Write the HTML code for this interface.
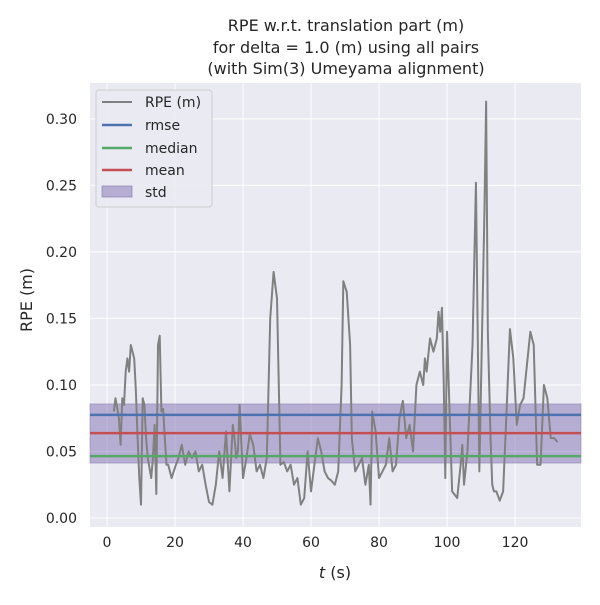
<!DOCTYPE html>
<html><head><meta charset="utf-8"><style>
body{margin:0;background:#fff;font-family:"Liberation Sans","DejaVu Sans",sans-serif;}
svg text{font-family:"DejaVu Sans","Liberation Sans",sans-serif;fill:#262626;}
</style></head><body>
<svg id="chart" width="600" height="600">
<g>
<text x="346" y="31" font-size="16" text-anchor="middle">RPE w.r.t. translation part (m)</text>
<text x="346" y="53" font-size="16" text-anchor="middle">for delta = 1.0 (m) using all pairs</text>
<text x="346" y="74" font-size="16" text-anchor="middle">(with Sim(3) Umeyama alignment)</text>
</g>
<rect x="90" y="83" width="491" height="444" fill="#eaeaf2"/>
<g id="grid"></g><g id="band"></g><g id="series"></g><g id="stats"></g><g id="ticks"></g>
<text x="335" y="578" font-size="16" text-anchor="middle"><tspan font-style="italic">t</tspan> (s)</text>
<text transform="translate(32,300) rotate(-90)" font-size="16" text-anchor="middle">RPE (m)</text>
<g>
<rect x="96" y="90" width="116" height="117" rx="3" fill="#eaeaf2" stroke="#ccc" opacity="0.9"/>
<line x1="102" y1="102" x2="132" y2="102" stroke="#808080" stroke-width="2"/>
<text x="145" y="107" font-size="14">RPE (m)</text>
<line x1="102" y1="125" x2="132" y2="125" stroke="#4c72b0" stroke-width="2.5"/>
<text x="145" y="130" font-size="14">rmse</text>
<line x1="102" y1="148" x2="132" y2="148" stroke="#55a868" stroke-width="2.5"/>
<text x="145" y="153" font-size="14">median</text>
<line x1="102" y1="170" x2="132" y2="170" stroke="#c44e52" stroke-width="2.5"/>
<text x="145" y="175" font-size="14">mean</text>
<rect x="102" y="186" width="30" height="11" fill="#8172b2" fill-opacity="0.5" stroke="#8172b2" stroke-opacity="0.6"/>
<text x="145" y="197" font-size="14">std</text>
</g>
</svg>
<script>
const times=[2,2.5,3.5,4,4.5,5,5.5,6,6.5,7,8,8.5,9,9.5,10,10.5,11,11.5,12,13,13.5,14,14.5,15,15.5,16,16.5,17,17.5,18,19,20,21,22,23,24,25,26,27,28,29,30,31,32,33,34,35,36,37,37.5,38,38.5,39,40,41,42,43,44,45,46,47,48,49,50,51,52,53,54,55,56,57,58,59,60,61,62,63,64,65,66,67,68,69,69.5,70.5,71.5,72,73,74,75,76,77,77.5,78,79,80,81,82,83,84,85,86,87,88,89,90,91,92,93,93.5,94,95,96,97,97.5,98,98.5,99,99.5,100,101,101.5,103,104,104.5,105,106,107.5,108.5,109.5,111,111.5,112,112.8,113.3,113.8,114.5,115.5,116.5,117.5,118.5,119.5,120.5,121.5,122.5,123.5,124.5,125.5,126.5,127.5,128.5,129.5,130.5,131.5,132.5];
const rpe=[0.08,0.09,0.075,0.055,0.09,0.085,0.11,0.12,0.11,0.13,0.12,0.095,0.06,0.03,0.01,0.09,0.085,0.06,0.045,0.03,0.045,0.07,0.018,0.13,0.137,0.08,0.082,0.06,0.04,0.04,0.03,0.038,0.045,0.055,0.04,0.05,0.045,0.05,0.035,0.04,0.025,0.012,0.01,0.025,0.05,0.03,0.065,0.02,0.07,0.06,0.045,0.05,0.085,0.03,0.045,0.063,0.055,0.035,0.04,0.03,0.045,0.15,0.185,0.165,0.04,0.042,0.035,0.04,0.025,0.03,0.01,0.015,0.05,0.02,0.04,0.06,0.05,0.035,0.03,0.028,0.025,0.035,0.1,0.178,0.17,0.13,0.06,0.035,0.04,0.045,0.025,0.04,0.01,0.08,0.065,0.03,0.035,0.04,0.06,0.035,0.04,0.075,0.088,0.06,0.07,0.05,0.1,0.11,0.1,0.12,0.11,0.135,0.125,0.135,0.155,0.14,0.158,0.105,0.03,0.14,0.06,0.02,0.015,0.04,0.055,0.025,0.05,0.13,0.252,0.035,0.23,0.313,0.14,0.06,0.025,0.02,0.02,0.013,0.02,0.08,0.142,0.12,0.07,0.085,0.09,0.115,0.14,0.13,0.04,0.04,0.1,0.09,0.06,0.06,0.057];
const statNames=["rmse","median","mean"];
const statValues=[0.0775,0.0465,0.0638];
const stdRange=[0.0413,0.0857];
const xTicks=[0,20,40,60,80,100,120];
const yTicks=[0,0.05,0.1,0.15,0.2,0.25,0.3];
const X0=90,X1=581,Y0=83,Y1=527,xmin=-5,xmax=139.4,ymin=-0.0068,ymax=0.327;
const sx=v=>X0+(v-xmin)/(xmax-xmin)*(X1-X0);
const sy=v=>Y1-(v-ymin)/(ymax-ymin)*(Y1-Y0);
const NS="http://www.w3.org/2000/svg";
function mk(tag,attrs,parent){const e=document.createElementNS(NS,tag);for(const k in attrs)e.setAttribute(k,attrs[k]);document.getElementById(parent).appendChild(e);return e;}
xTicks.forEach(t=>{
 const l=mk("line",{x1:sx(t),x2:sx(t),y1:Y0,y2:Y1,stroke:"#fff","stroke-width":1},"grid");
 
 
 const tx=mk("text",{x:sx(t),y:Y1+20,"font-size":14,"text-anchor":"middle"},"ticks");tx.textContent=t;
 
 
});
yTicks.forEach(v=>{
 const l=mk("line",{x1:X0,x2:X1,y1:sy(v),y2:sy(v),stroke:"#fff","stroke-width":1},"grid");
 
 
 const tx=mk("text",{x:X0-13,y:sy(v)+5,"font-size":14,"text-anchor":"end"},"ticks");tx.textContent=v.toFixed(2);
 
 
});
const band=mk("rect",{x:X0,width:X1-X0,y:sy(stdRange[1]),height:sy(stdRange[0])-sy(stdRange[1]),fill:"#8172b2","fill-opacity":0.5,stroke:"#8172b2","stroke-opacity":0.5},"band");


const path=mk("polyline",{points:times.map((t,i)=>sx(t)+","+sy(rpe[i])).join(" "),fill:"none",stroke:"#808080","stroke-width":2,"stroke-linejoin":"round"},"series");


const cols={rmse:"#4c72b0",median:"#55a868",mean:"#c44e52"};
statNames.forEach((n,i)=>{
 const l=mk("line",{x1:X0,x2:X1,y1:sy(statValues[i]),y2:sy(statValues[i]),stroke:cols[n],"stroke-width":2.5},"stats");
 
 
});
</script>
</body></html>
